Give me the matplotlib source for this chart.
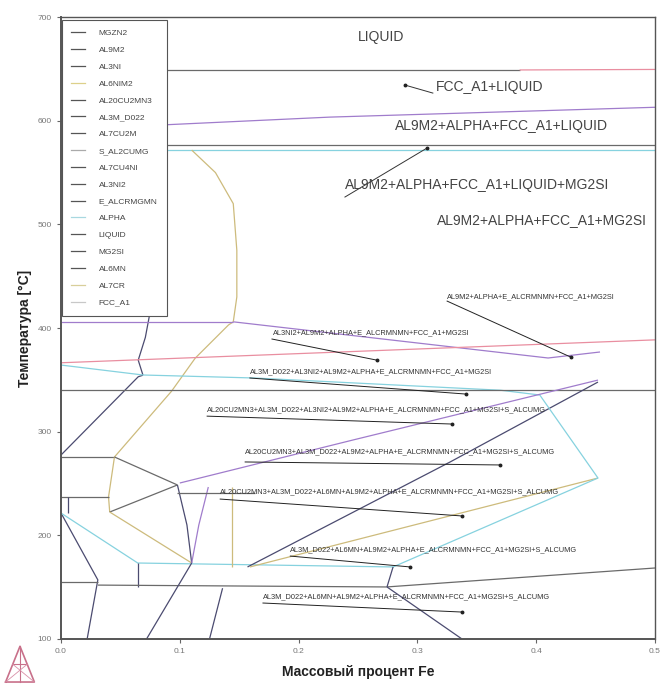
import numpy as np
import matplotlib
matplotlib.use('Agg')
import matplotlib.pyplot as plt
from matplotlib.lines import Line2D

plt.rcParams['font.family'] = ['Liberation Sans', 'DejaVu Sans']

# ---- colours of the phase boundary families ----
C = {'gray': '#6a6a6a', 'dark': '#4b4b70', 'purple': '#a07ccc', 'pink': '#e98ea0',
     'cyan': '#86d2df', 'olive': '#cdbb7c'}

# ---- phase boundaries: (colour, wt% Fe, T degC) ----
TOP_LINES = [
    ('gray',   [0.0, 0.386], [649, 649]),
    ('pink',   [0.386, 0.5], [649, 649.5]),
    ('purple', [0.0, 0.086, 0.226, 0.5], [592, 596, 603.5, 613]),
    ('gray',   [0.0, 0.5], [576.5, 576.5]),
    ('cyan',   [0.0, 0.5], [571.7, 571.7]),
]
MID_LINES = [
    ('olive',  [0.11, 0.13, 0.145, 0.148, 0.148, 0.145], [571.7, 550, 520, 475, 430, 406]),
    ('olive',  [0.145, 0.141, 0.113, 0.093, 0.045], [406, 403, 371, 339, 275.6]),
    ('dark',   [0.077, 0.075, 0.071, 0.065, 0.069], [430, 415.5, 391, 369, 354.5]),
    ('dark',   [0.0, 0.065, 0.069], [277.5, 353, 354.5]),
    ('purple', [0.0, 0.145], [406, 406]),
    ('purple', [0.145, 0.41, 0.4537], [406, 371.1, 376.9]),
    ('pink',   [0.0, 0.5], [366.5, 388.6]),
    ('cyan',   [0.0, 0.069, 0.163, 0.37, 0.403], [364.3, 354.7, 351.8, 340, 335.4]),
    ('gray',   [0.0, 0.5], [340.2, 340.2]),
]
LOW_LEFT_LINES = [
    ('gray',   [0.0, 0.045], [275.6, 275.6]),
    ('olive',  [0.045, 0.040, 0.041], [275.6, 237, 222.5]),
    ('gray',   [0.045, 0.098], [275.6, 248.6]),
    ('gray',   [0.0, 0.040], [237, 237]),
    ('dark',   [0.006, 0.006], [237, 221.5]),
    ('gray',   [0.041, 0.098], [222.5, 248.6]),
    ('dark',   [0.0, 0.031, 0.022], [221.5, 157, 100]),
    ('cyan',   [0.0, 0.065], [221.5, 173]),
    ('olive',  [0.041, 0.110], [222.5, 173.3]),
    ('cyan',   [0.065, 0.280], [173.3, 169.5]),
    ('dark',   [0.065, 0.065], [173.3, 150]),
    ('gray',   [0.0, 0.031], [155, 155]),
    ('gray',   [0.031, 0.274, 0.5], [152, 150.2, 168.5]),
    ('dark',   [0.098, 0.106, 0.110], [248.6, 210, 173.3]),
    ('purple', [0.124, 0.116, 0.110], [246.6, 210, 173.3]),
    ('dark',   [0.110, 0.072], [173.3, 100]),
    ('olive',  [0.144, 0.144], [246.6, 169.5]),
    ('dark',   [0.136, 0.125], [149, 100]),
    ('gray',   [0.098, 0.163], [241, 241]),
]
RIGHT_LINES = [
    ('dark',   [0.157, 0.3274, 0.452], [169.5, 270.7, 347.9]),
    ('olive',  [0.159, 0.452], [169.5, 255.3]),
    ('cyan',   [0.2795, 0.452, 0.403], [169.5, 255.3, 335.4]),
    ('purple', [0.100, 0.2458, 0.452], [250.5, 292, 349.8]),
    ('dark',   [0.2795, 0.2744], [169.5, 150.2]),
    ('dark',   [0.2744, 0.3375], [150.2, 100]),
]

# ---- region labels ----
BIG_LABELS = [('LIQUID', 0.25, 680.7), ('FCC_A1+LIQUID', 0.3157, 632.5),
              ('AL9M2+ALPHA+FCC_A1+LIQUID', 0.281, 594.9),
              ('AL9M2+ALPHA+FCC_A1+LIQUID+MG2SI', 0.239, 538),
              ('AL9M2+ALPHA+FCC_A1+MG2SI', 0.3165, 504.2)]
BIG_LEADERS = [((0.313, 626.7), (0.2896, 634.4)), ((0.239, 526.4), (0.308, 573.6))]

SMALL_LABELS = [
    'AL9M2+ALPHA+E_ALCRMNMN+FCC_A1+MG2SI',
    'AL3NI2+AL9M2+ALPHA+E_ALCRMNMN+FCC_A1+MG2SI',
    'AL3M_D022+AL3NI2+AL9M2+ALPHA+E_ALCRMNMN+FCC_A1+MG2SI',
    'AL20CU2MN3+AL3M_D022+AL3NI2+AL9M2+ALPHA+E_ALCRMNMN+FCC_A1+MG2SI+S_ALCUMG',
    'AL20CU2MN3+AL3M_D022+AL9M2+ALPHA+E_ALCRMNMN+FCC_A1+MG2SI+S_ALCUMG',
    'AL20CU2MN3+AL3M_D022+AL6MN+AL9M2+ALPHA+E_ALCRMNMN+FCC_A1+MG2SI+S_ALCUMG',
    'AL3M_D022+AL6MN+AL9M2+ALPHA+E_ALCRMNMN+FCC_A1+MG2SI+S_ALCUMG',
    'AL3M_D022+AL6MN+AL9M2+ALPHA+E_ALCRMNMN+FCC_A1+MG2SI+S_ALCUMG',
]
SMALL_X = [0.325, 0.1785, 0.159, 0.123, 0.155, 0.134, 0.193, 0.170]
SMALL_T = [430, 395.2, 357.6, 320.9, 280.4, 241.8, 185.9, 140.5]
LEAD_FROM = [(0.325, 426), (0.1776, 389.4), (0.159, 351.8), (0.123, 315), (0.155, 270.8),
             (0.134, 235), (0.193, 180), (0.170, 134.7)]
LEAD_TO = [(0.429, 372), (0.266, 369), (0.341, 336.3), (0.329, 307.4), (0.3695, 267.9),
           (0.3375, 218.7), (0.294, 169.5), (0.3375, 126)]

LEGEND_NAMES = ['MGZN2', 'AL9M2', 'AL3NI', 'AL6NIM2', 'AL20CU2MN3', 'AL3M_D022', 'AL7CU2M',
                'S_AL2CUMG', 'AL7CU4NI', 'AL3NI2', 'E_ALCRMGMN', 'ALPHA', 'LIQUID', 'MG2SI',
                'AL6MN', 'AL7CR', 'FCC_A1']
LEGEND_COLS = ['#555555', '#555555', '#555555', '#ddd08a', '#555555', '#555555', '#555555',
               '#aaaaaa', '#555555', '#555555', '#555555', '#a8d8e0', '#555555', '#555555',
               '#555555', '#d8cf9a', '#c8c8c8']

fig = plt.figure(figsize=(6.66, 6.84), dpi=100)
ax = fig.add_axes([0.0916, 0.0658, 0.8919, 0.9092])

for group in (TOP_LINES, MID_LINES, LOW_LEFT_LINES, RIGHT_LINES):
    for col, xs, ts in group:
        ax.plot(xs, ts, color=C[col], lw=0.9, solid_capstyle='butt')

for txt, x, t in BIG_LABELS:
    ax.text(x, t, txt, fontsize=10, color='#444444', va='center', ha='left')
for (x0, t0), (x1, t1) in BIG_LEADERS:
    ax.plot([x0, x1], [t0, t1], color='#333333', lw=0.7)
    ax.plot(x1, t1, 'o', ms=1.8, color='#222222')

for txt, x, t, a, b in zip(SMALL_LABELS, SMALL_X, SMALL_T, LEAD_FROM, LEAD_TO):
    ax.text(x, t, txt, fontsize=5.3, color='#333333', va='center', ha='left')
    ax.plot([a[0], b[0]], [a[1], b[1]], color='#222222', lw=0.7)
    ax.plot(b[0], b[1], 'o', ms=1.8, color='#222222')

ax.set_xlim(0, 0.5)
ax.set_ylim(100, 700)
ax.set_xticks(np.arange(0, 0.51, 0.1))
ax.set_xticklabels([f'{v:.1f}' for v in np.arange(0, 0.51, 0.1)])
ax.set_yticks(np.arange(100, 701, 100))
ax.tick_params(axis='both', labelsize=6, colors='#666666', length=3, width=0.8,
               labelcolor='#777777')
for s in ax.spines.values():
    s.set_color('#555555')
    s.set_linewidth(1.0)
ax.spines['left'].set_linewidth(1.4)
ax.spines['bottom'].set_linewidth(1.4)
ax.set_xlabel('Массовый процент Fe', fontsize=10, fontweight='bold', color='#222222', labelpad=7)
ax.set_ylabel('Температура [°C]', fontsize=10, fontweight='bold', color='#222222', labelpad=4)

handles = [Line2D([0], [0], color=c, lw=0.9) for c in LEGEND_COLS]
leg = ax.legend(handles, LEGEND_NAMES, loc='upper left', bbox_to_anchor=(0.002, 0.995),
                fontsize=6, frameon=True, fancybox=False, edgecolor='#555555',
                framealpha=1, handlelength=1.6, handletextpad=1.7, labelspacing=1.08,
                borderpad=1.1, borderaxespad=0)
leg.get_frame().set_linewidth(0.8)
for t in leg.get_texts():
    t.set_color('#444444')

# Thermo-Calc logo
lax = fig.add_axes([0.006, 0.0, 0.048, 0.058])
lax.axis('off')
lax.set_xlim(0, 1)
lax.set_ylim(0, 1)
tri = [(0.05, 0.05), (0.5, 0.95), (0.95, 0.05), (0.05, 0.05)]
lax.plot([p[0] for p in tri], [p[1] for p in tri], color='#c8708a', lw=1.2)
lax.plot([0.5, 0.5], [0.05, 0.95], color='#c8708a', lw=0.8)
lax.plot([0.27, 0.73], [0.5, 0.5], color='#c8708a', lw=0.8)
lax.plot([0.05, 0.73], [0.05, 0.5], color='#d890a8', lw=0.6)
lax.plot([0.95, 0.27], [0.05, 0.5], color='#d890a8', lw=0.6)

fig.savefig('out.png', dpi=100)
